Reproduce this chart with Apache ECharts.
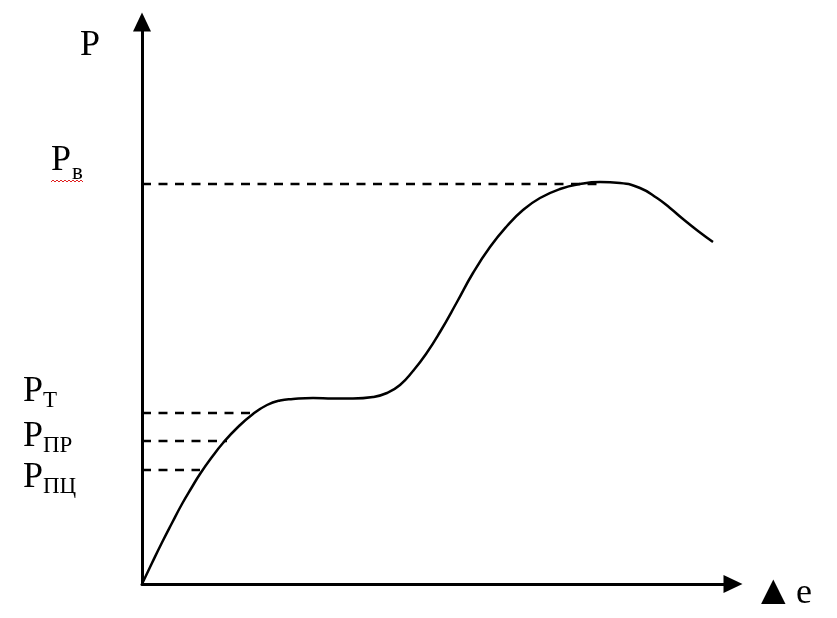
<!DOCTYPE html>
<html>
<head>
<meta charset="utf-8">
<script src="https://cdn.jsdelivr.net/npm/echarts@6/dist/echarts.min.js"></script>
<style>
html,body{margin:0;padding:0;background:#fff;}
#chart{width:837px;height:618px;}
</style>
</head>
<body>
<div id="chart"></div>
<script>
// Curve (deformation e vs load P)
var curveX = [0,10,20,30,40,50,58,70,81,95,111,125,138,151,171,191,211,231,245,258,271,284,298,315,331,348,365,381,398,418,438,458,478,498,515,528,541,556,571];
var curveY = [0,21,41.5,61,80,97,110,127,141,156,170,179,183.5,185,186,185.5,185.5,187,191,199,213,230,252,282,311,337,358,374,386,395,400,402,401,396,386,376,365,353,342];

// Reference levels (dashed lines): level value and where the dash ends on x
var levelNames = ['Pв', 'PТ', 'PПР', 'PПЦ'];
var levelY = [400, 171, 143, 114];
var levelXEnd = [458, 111, 85, 58];

// Axis titles
var yAxisTitle = 'P';
var xAxisTitle = 'e';

var curveData = curveX.map(function (x, i) { return [x, curveY[i]]; });

var series = [{
  type: 'line',
  data: curveData,
  smooth: 0.5,
  symbol: 'none',
  lineStyle: { color: '#000', width: 2.5 },
  z: 3
}];
levelY.forEach(function (y, i) {
  series.push({
    type: 'line',
    data: [[0, y], [levelXEnd[i], y]],
    symbol: 'none',
    lineStyle: { color: '#000', width: 2.5, type: [9, 7.5] },
    z: 2
  });
});

var serif = '"Liberation Serif", "Times New Roman", serif';
function txt(s, x, y, size) {
  return {
    type: 'text',
    x: x, y: y,
    style: {
      text: s,
      font: size + 'px ' + serif,
      fill: '#000',
      textAlign: 'left',
      textVerticalAlign: 'middle'
    },
    z: 10
  };
}

// wavy red underline under Pв (spell-check squiggle)
var wave = [];
for (var k = 0; k <= 16; k++) { wave.push([51 + k * 2, 180 + (k % 2 ? 0 : 2)]); }

var graphics = [
  txt(yAxisTitle, 80, 46, 36),
  txt(levelNames[0].charAt(0), 51, 161, 36),
  txt(levelNames[0].slice(1), 72, 173, 23),
  txt(levelNames[1].charAt(0), 23, 392, 36),
  txt(levelNames[1].slice(1), 43, 401, 23),
  txt(levelNames[2].charAt(0), 23, 437, 36),
  txt(levelNames[2].slice(1), 43, 446, 23),
  txt(levelNames[3].charAt(0), 23, 478, 36),
  txt(levelNames[3].slice(1), 43, 487, 23),
  {
    type: 'polyline',
    shape: { points: wave },
    style: { stroke: '#e02020', lineWidth: 1, fill: null },
    z: 10
  },
  {
    type: 'text', x: 761, y: 592,
    style: { text: '▲', font: '32px "DejaVu Sans", sans-serif', fill: '#000', textAlign: 'left', textVerticalAlign: 'middle' },
    z: 10
  },
  txt(xAxisTitle, 796, 594, 36)
];

var chart = echarts.init(document.getElementById('chart'), null, { renderer: 'canvas' });
chart.setOption({
  animation: false,
  backgroundColor: '#fff',
  grid: { left: 142, top: 22, width: 591, height: 562 },
  xAxis: {
    type: 'value', min: 0, max: 591,
    axisLine: { show: true, lineStyle: { color: '#000', width: 3 }, symbol: ['none', 'triangle'], symbolSize: [18, 19] },
    axisTick: { show: false }, axisLabel: { show: false }, splitLine: { show: false }
  },
  yAxis: {
    type: 'value', min: 0, max: 562,
    axisLine: { show: true, lineStyle: { color: '#000', width: 3 }, symbol: ['none', 'triangle'], symbolSize: [18, 19] },
    axisTick: { show: false }, axisLabel: { show: false }, splitLine: { show: false }
  },
  series: series,
  graphic: graphics
});
</script>
</body>
</html>
